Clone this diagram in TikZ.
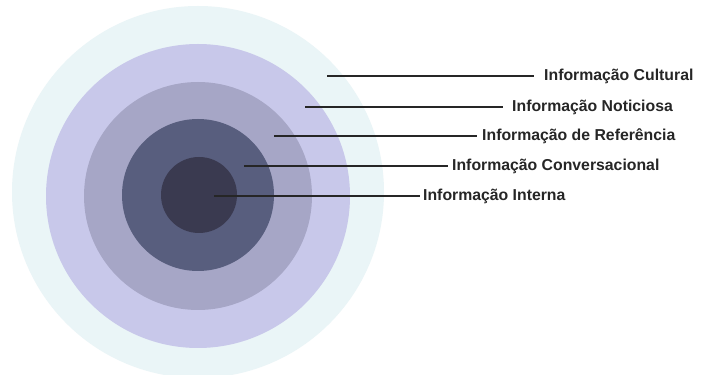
\documentclass[tikz,border=0pt]{standalone}
\usepackage{fontspec}
\setmainfont{Liberation Sans}
\definecolor{cA}{RGB}{234,245,247}
\definecolor{cB}{RGB}{200,200,234}
\definecolor{cC}{RGB}{166,166,198}
\definecolor{cD}{RGB}{88,94,126}
\definecolor{cE}{RGB}{58,58,80}
\tikzset{
  ring/.style={circle, inner sep=0pt, draw=none},
  lead/.style={line width=1.3pt, black!85},
  lbl/.style={anchor=base west, inner sep=0pt, font=\fontsize{15.8}{18}\selectfont\bfseries, text=black!85}
}
\begin{document}
\begin{tikzpicture}[x=1pt,y=1pt]
\useasboundingbox (0,0) rectangle (702,375);
\fill[white] (0,0) rectangle (702,375);
\node[ring, fill=cA, minimum size=372pt] (r1) at (198,183) {};
\node[ring, fill=cB, minimum size=304pt] (r2) at (198,179) {};
\node[ring, fill=cC, minimum size=228pt] (r3) at (198,179) {};
\node[ring, fill=cD, minimum size=152pt] (r4) at (198,180) {};
\node[ring, fill=cE, minimum size=76pt] (r5) at (199,180) {};
\coordinate (s1) at (327,299);
\coordinate (s2) at (305,268);
\coordinate (s3) at (274,239);
\coordinate (s4) at (244,209);
\coordinate (s5) at (214,179);
\node[lbl] (t1) at (544,294.5) {Informação Cultural};
\node[lbl] (t2) at (512,263.5) {Informação Noticiosa};
\node[lbl] (t3) at (482,234) {Informação de Referência};
\node[lbl] (t4) at (452,204) {Informação Conversacional};
\node[lbl] (t5) at (423,174) {Informação Interna};
\draw[lead] (s1) -- ([xshift=-10pt]t1.west |- s1);
\draw[lead] (s2) -- ([xshift=-9pt]t2.west |- s2);
\draw[lead] (s3) -- ([xshift=-5pt]t3.west |- s3);
\draw[lead] (s4) -- ([xshift=-4pt]t4.west |- s4);
\draw[lead] (s5) -- ([xshift=-3pt]t5.west |- s5);
\end{tikzpicture}
\end{document}
